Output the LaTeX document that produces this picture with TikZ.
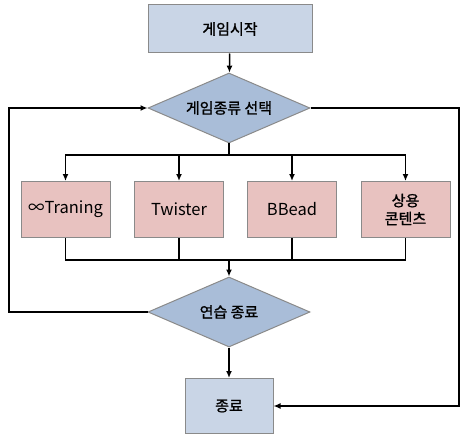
\documentclass[tikz,border=0pt]{standalone}
\usepackage{fontspec}
\newfontfamily\kr{Noto Sans CJK KR}
\newfontfamily\krb{Noto Sans CJK KR}[FakeBold=1.2]
\usetikzlibrary{shapes.geometric,arrows.meta,positioning}
\definecolor{boxblue}{HTML}{C9D5E6}
\definecolor{diablue}{HTML}{A9BDD8}
\definecolor{gamepink}{HTML}{E8C2C0}
\definecolor{rimgray}{HTML}{8A8A8A}

\begin{document}
\begin{tikzpicture}[x=1pt,y=-1pt]
			\tikzset{
			  BoxStyle/.style = { draw=rimgray, line width=1pt, fill=boxblue,
			                      font = \krb\fontsize{15}{18}\selectfont },
			  DecisionStyle/.style = { diamond, draw=rimgray, line width=1pt,
			                           fill=diablue, inner sep=0pt, aspect=2.3,
			                           minimum width=162pt, minimum height=70pt,
			                           font = \krb\fontsize{15}{18}\selectfont },
			  GameStyle/.style = { draw=rimgray, line width=1pt, fill=gamepink,
			                       minimum width=89pt, minimum height=56pt,
			                       align=center,
			                       font = \kr\fontsize{16.5}{19}\selectfont },
			  LineStyle/.style = { line width=1.4pt },
			  EdgeStyle/.style = { LineStyle, -{Latex[length=7pt,width=6pt]} } }
			\useasboundingbox (0,0) rectangle (460,436);
			% main column
			\node[BoxStyle, minimum width=164pt, minimum height=48pt] (start) at (230,29) {게임시작};
			\node[DecisionStyle] (select) at (229,108) {게임종류 선택};
			\node[DecisionStyle] (quit) at (229,312) {연습 종료};
			\node[BoxStyle, minimum width=88pt, minimum height=55pt] (finish) at (229,406) {종료};
			% games
			\node[GameStyle] (training) at (65.5,209.5) {∞Traning};
			\node[GameStyle] (twister) at (179,209.5) {Twister};
			\node[GameStyle] (bbead) at (292,209.5) {BBead};
			\node[GameStyle, font=\krb\fontsize{15}{18}\selectfont] (content) at (405.5,209.5) {상용\\콘텐츠};
			\coordinate (split) at (229,155);
			\coordinate (join) at (229,260);
			\coordinate (leftrail) at (9,312);
			\coordinate (rightrail) at (459,108);
			\draw[EdgeStyle] (start) -- (select);
			\draw[LineStyle] (select) -- (split);
			\foreach \g in {training,twister,bbead,content}
			  \draw[EdgeStyle] (split) -| (\g);
			\foreach \g in {training,twister,bbead,content}
			  \draw[LineStyle] (\g) |- (join);
			\draw[EdgeStyle] (join) -- (quit);
			\draw[EdgeStyle] (quit) -- (finish);
			\draw[EdgeStyle] (quit.west) -- (leftrail) |- (select.west);
			\draw[EdgeStyle] (select.east) -- (rightrail) |- (finish.east);
\end{tikzpicture}
\end{document}
